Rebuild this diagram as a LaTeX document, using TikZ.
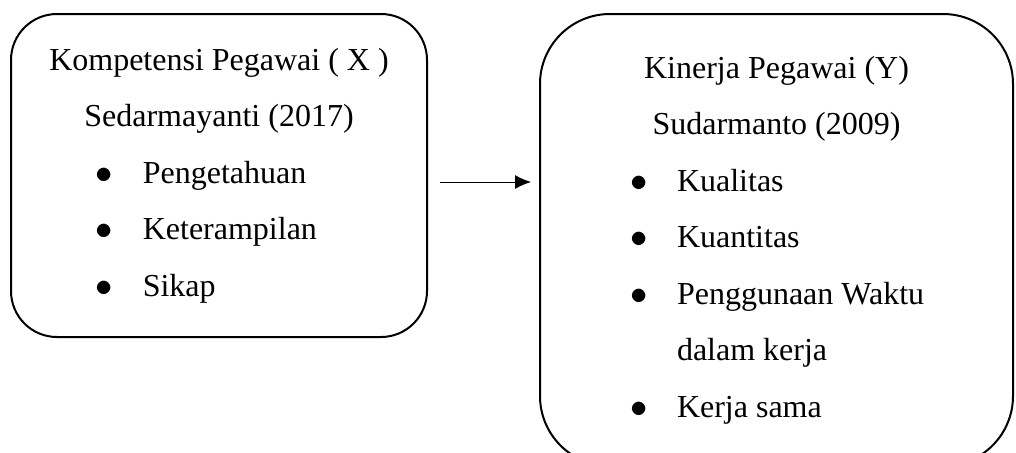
\documentclass[tikz,border=0pt]{standalone}
\usepackage{fontspec}
\setmainfont{Liberation Serif}
\usepackage{tikz}
\usetikzlibrary{arrows.meta}
\tikzstyle{kotak} = [draw=black, fill=white, line width=1pt,
    rectangle, inner sep=0pt]
\tikzstyle{panah} = [-{Latex[length=8pt,width=7pt]}, line width=0.5pt]
\newlength{\butirindent}
\newcommand{\butir}[1]{\par\noindent\hspace*{\butirindent}\makebox[23.5pt][l]{$\bullet$}#1}
\newcommand{\lanjut}[1]{\par\noindent\hspace*{\butirindent}\hspace*{23.5pt}#1}

\begin{document}
\begin{tikzpicture}[x=1pt,y=1pt]
                \useasboundingbox (0,0) rectangle (508,226);
                \clip (0,0) rectangle (508,226);
                \node [kotak, rounded corners=23pt, minimum width=208pt, minimum height=161.5pt] (boxX) at (109.5,138.25) {%
                    \begin{minipage}{208pt}
                        \fontsize{16}{28.25}\selectfont
                        \centering Kompetensi Pegawai ( X )\\
                        Sedarmayanti (2017)\par
                        \raggedright\setlength{\butirindent}{42.4pt}
                        \butir{Pengetahuan}
                        \butir{Keterampilan}
                        \butir{Sikap}
                    \end{minipage}
                };
                \node [kotak, rounded corners=35pt, minimum width=236.5pt, minimum height=226pt] (boxY) at (388.25,106) {%
                    \begin{minipage}{236.5pt}
                        \fontsize{16}{28.25}\selectfont
                        \centering Kinerja Pegawai (Y)\\
                        Sudarmanto (2009)\par
                        \raggedright\setlength{\butirindent}{45pt}
                        \butir{Kualitas}
                        \butir{Kuantitas}
                        \butir{Penggunaan Waktu}
                        \lanjut{dalam kerja}
                        \butir{Kerja sama}
                    \end{minipage}
                };
                \draw [panah, shorten <=6pt, shorten >=4pt] ([yshift=-3.25pt]boxX.east) -- ([yshift=-3.25pt]boxX.east -| boxY.west);
            \end{tikzpicture}
\end{document}
